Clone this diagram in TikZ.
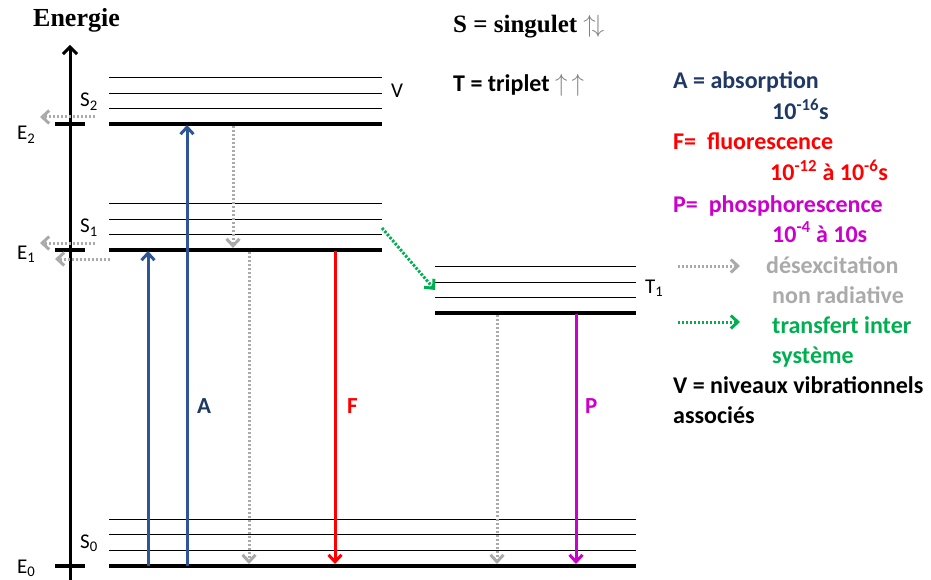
\documentclass[tikz,border=0pt]{standalone}
\usepackage{fontspec}
\setmainfont{Carlito}
\newfontfamily\seriffont{Liberation Serif}
\usetikzlibrary{arrows.meta}
\definecolor{absblue}{RGB}{47,85,151}
\definecolor{absnavy}{RGB}{31,56,100}
\definecolor{fluored}{RGB}{255,0,0}
\definecolor{phosmag}{RGB}{204,0,204}
\definecolor{iscgreen}{RGB}{0,176,80}
\definecolor{nrgray}{RGB}{170,170,170}
\tikzset{
  level/.style={line width=0.9pt},
  ground/.style={line width=3.4pt},
  trans/.style={line width=3pt, -{Straight Barb[length=7pt,width=13pt]}},
  nonrad/.style={trans, nrgray, dash pattern=on 2.4pt off 1.6pt},
  isc/.style={trans, iscgreen, dash pattern=on 2.4pt off 1.6pt},
  lbl/.style={font=\fontsize{21}{24}\selectfont, anchor=base west, inner sep=0pt},
  tlbl/.style={font=\fontsize{23}{26}\selectfont\bfseries, anchor=base west, inner sep=0pt},
  leg/.style={font=\fontsize{24}{28}\selectfont\bfseries, anchor=base west, inner sep=0pt},
}
\begin{document}
\begin{tikzpicture}[x=1pt,y=-1pt]
	\useasboundingbox (0,0) rectangle (931,580);
	
	% axe
	\coordinate (axlow) at (70,580);
	\coordinate (axtop) at (70,45);
	\draw[line width=3pt, -{Straight Barb[length=7pt,width=14pt]}] (axlow) -- (axtop);
	\node[font=\seriffont\bfseries\fontsize{26}{30}\selectfont, anchor=base west, inner sep=0pt] (energie) at (33,27) {Energie};
	\draw[ground] (55,124) -- (85,124);
	\draw[ground] (55,250) -- (85,250);
	\draw[ground] (55,566) -- (85,566);
	\node[lbl] (e2) at (17,140) {E\textsubscript{2}};
	\node[lbl] (e1) at (17,259) {E\textsubscript{1}};
	\node[lbl] (e0) at (17,573) {E\textsubscript{0}};
	
	% niveaux
	\foreach \y in {77,93,108} \draw[level] (109,\y) -- (382,\y);
	\draw[ground] (109,124) -- (382,124);
	\foreach \y in {203,219,234} \draw[level] (109,\y) -- (382,\y);
	\draw[ground] (109,250) -- (382,250);
	\foreach \y in {266,282,297} \draw[level] (435,\y) -- (636,\y);
	\draw[ground] (435,313) -- (636,313);
	\foreach \y in {519,534,550} \draw[level] (109,\y) -- (636,\y);
	\draw[ground] (109,566) -- (636,566);
	\node[lbl] (s2) at (80,107) {S\textsubscript{2}};
	\node[lbl] (s1) at (80,233) {S\textsubscript{1}};
	\node[lbl] (s0) at (80,548) {S\textsubscript{0}};
	\node[lbl] (t1) at (645,293) {T\textsubscript{1}};
	\node[lbl] (v) at (391,98) {V};
	
	% transitions
	\coordinate (a1low) at (148,566);
	\coordinate (a1up) at (148,251);
	\coordinate (a2low) at (187,566);
	\coordinate (a2up) at (187,125);
	\draw[trans, absblue] (a1low) -- (a1up);
	\draw[trans, absblue] (a2low) -- (a2up);
	\coordinate (nr1up) at (233,126);
	\coordinate (nr1low) at (233,248);
	\draw[nonrad] (nr1up) -- (nr1low);
	\coordinate (nr2up) at (249,252);
	\coordinate (nr2low) at (249,564);
	\draw[nonrad] (nr2up) -- (nr2low);
	\coordinate (fup) at (335,251);
	\coordinate (flow) at (335,564);
	\draw[trans, fluored] (fup) -- (flow);
	\coordinate (nr3up) at (497,315);
	\coordinate (nr3low) at (497,564);
	\draw[nonrad] (nr3up) -- (nr3low);
	\coordinate (pup) at (576,314);
	\coordinate (plow) at (576,564);
	\draw[trans, phosmag] (pup) -- (plow);
	\coordinate (iscfrom) at (382,228);
	\coordinate (iscto) at (435,290);
	\draw[isc] (iscfrom) -- (iscto);
	\coordinate (nl1a) at (95,117);
	\coordinate (nl1b) at (40,117);
	\draw[nonrad] (nl1a) -- (nl1b);
	\coordinate (nl2a) at (95,243);
	\coordinate (nl2b) at (40,243);
	\draw[nonrad] (nl2a) -- (nl2b);
	\coordinate (nl3a) at (110,259);
	\coordinate (nl3b) at (55,259);
	\draw[nonrad] (nl3a) -- (nl3b);
	\node[tlbl, text=absnavy] (alab) at (197,413) {A};
	\node[tlbl, text=fluored] (flab) at (347,413) {F};
	\node[tlbl, text=phosmag] (plab) at (585,413) {P};
	
	% legende
	\node[leg, font=\seriffont\bfseries\fontsize{25}{29}\selectfont] (sing) at (453,33) {S = singulet {\mdseries\color{gray}$\uparrow\!\downarrow$}};
	\node[leg] (trip) at (453,92) {T = triplet {\mdseries\color{gray}$\uparrow\,\uparrow$}};
	\node[leg, text=absnavy] (absl) at (673,89) {A = absorption};
	\node[leg, text=absnavy] (abst) at (772,120) {10\textsuperscript{-16}s};
	\node[leg, text=fluored] (fluol) at (673,150) {F=\ \ fluorescence};
	\node[leg, text=fluored] (fluot) at (770,181) {10\textsuperscript{-12} à 10\textsuperscript{-6}s};
	\node[leg, text=phosmag] (phosl) at (673,212) {P=\ \ phosphorescence};
	\node[leg, text=phosmag] (phost) at (772,242) {10\textsuperscript{-4} à 10s};
	\coordinate (lg1a) at (678,266);
	\coordinate (lg1b) at (740,266);
	\draw[nonrad] (lg1a) -- (lg1b);
	\node[leg, text=nrgray] (desex) at (766,273) {désexcitation};
	\node[leg, text=nrgray] (nonrad) at (772,303) {non radiative};
	\coordinate (lg2a) at (678,322);
	\coordinate (lg2b) at (740,322);
	\draw[isc] (lg2a) -- (lg2b);
	\node[leg, text=iscgreen] (trans1) at (772,333) {transfert inter};
	\node[leg, text=iscgreen] (trans2) at (772,363) {système};
	\node[leg] (vib1) at (673,393) {V = niveaux vibrationnels};
	\node[leg] (vib2) at (673,423) {associés};
\end{tikzpicture}
\end{document}
